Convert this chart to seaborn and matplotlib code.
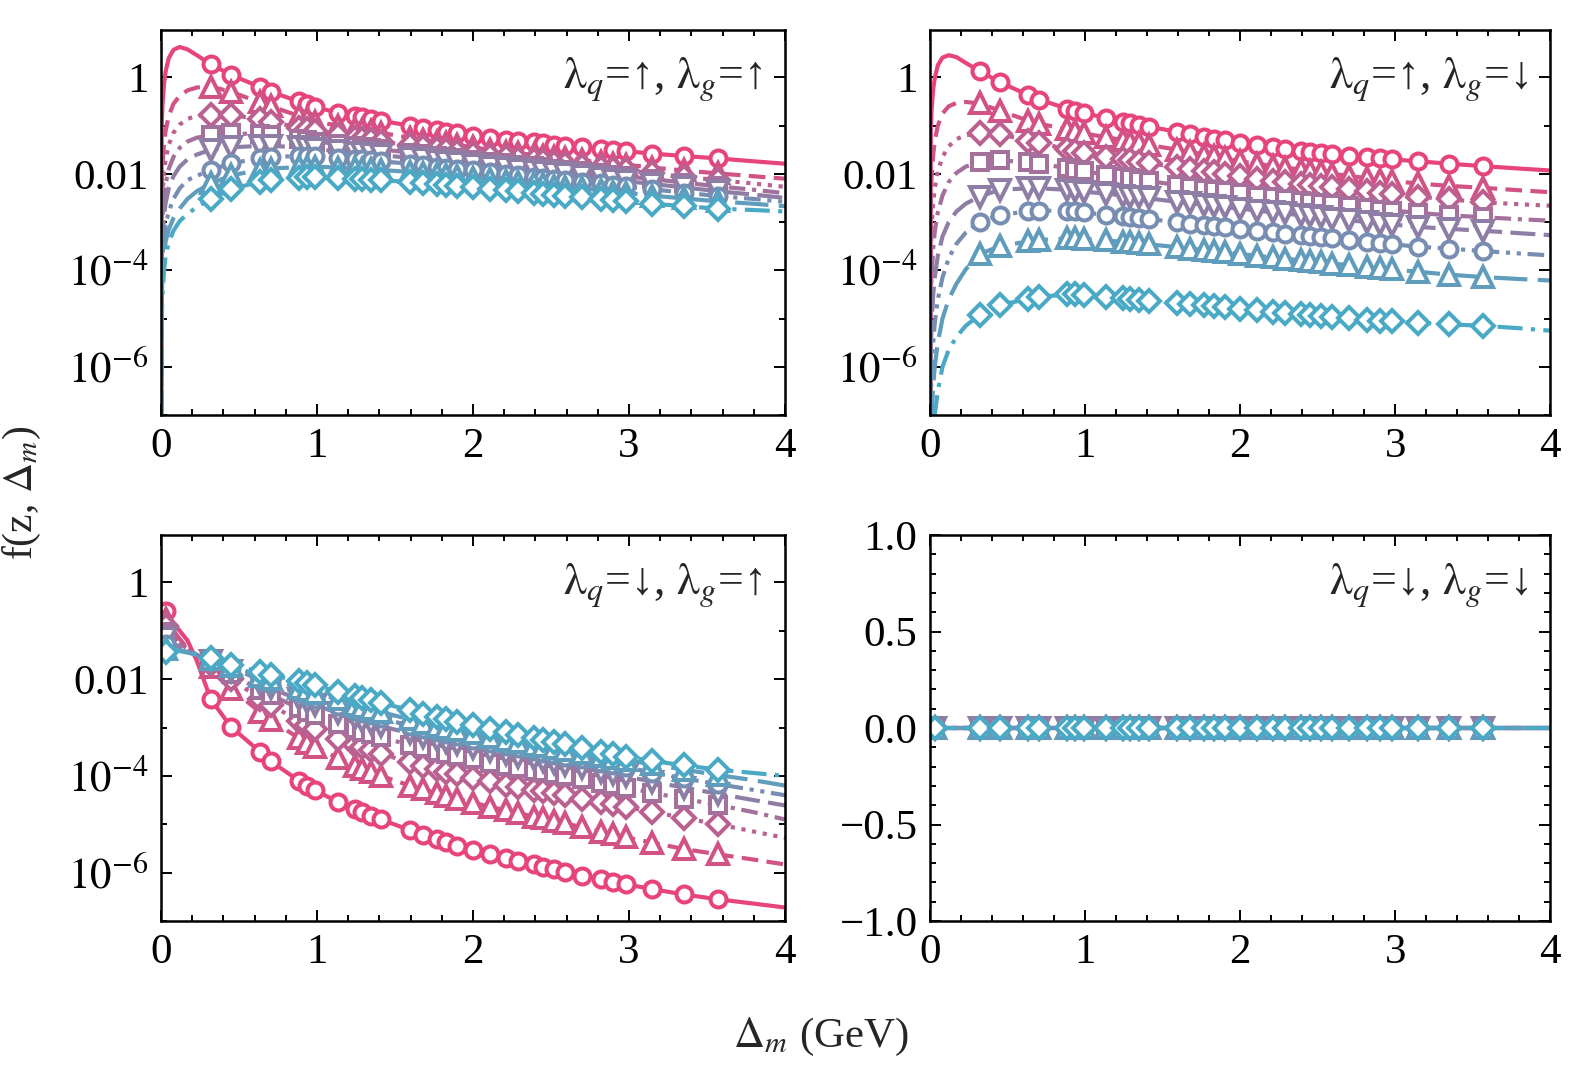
import numpy as np
import pandas as pd
import matplotlib
matplotlib.use('Agg')
import matplotlib.pyplot as plt
import seaborn as sns
from matplotlib.ticker import FixedLocator, FixedFormatter, NullFormatter, MultipleLocator

# Δm grid (GeV): the first points only shape the steep rise near 0
dm = [0.0, 0.005, 0.01, 0.02, 0.03, 0.05, 0.08, 0.12, 0.17, 0.23,
      0.32, 0.45, 0.635, 0.705, 0.885, 0.935, 0.99, 1.135, 1.245, 1.29, 1.345, 1.41,
      1.595, 1.68, 1.77, 1.83, 1.90, 2.0, 2.11, 2.21, 2.29, 2.39, 2.45, 2.52,
      2.59, 2.70, 2.82, 2.90, 2.98, 3.15, 3.35, 3.57, 3.8, 4.0]

# which grid points carry a marker
marks_top = list(range(10, 42))
marks_bottom = [4] + list(range(10, 42))

# log10 f(z, Δm), 8 curves per panel (pink -> teal); -9 = f vanishes at Δm = 0
logf_uu = [
    [-9, -1.0, -0.55, -0.12, 0.12, 0.4, 0.57, 0.63, 0.58, 0.46,
     0.27, 0.05, -0.2, -0.3, -0.5, -0.56, -0.62, -0.73, -0.8, -0.83, -0.86, -0.9,
     -1.0, -1.05, -1.1, -1.13, -1.16, -1.21, -1.25, -1.29, -1.32, -1.35, -1.37, -1.4,
     -1.42, -1.45, -1.49, -1.51, -1.53, -1.58, -1.63, -1.68, -1.74, -1.79],
    [-9, -2.3, -1.8, -1.35, -1.1, -0.8, -0.55, -0.38, -0.27, -0.21,
     -0.19, -0.3, -0.52, -0.6, -0.8, -0.86, -0.92, -1.0, -1.06, -1.09, -1.12, -1.15,
     -1.25, -1.29, -1.34, -1.37, -1.4, -1.45, -1.5, -1.54, -1.57, -1.61, -1.63, -1.65,
     -1.68, -1.72, -1.76, -1.79, -1.81, -1.87, -1.93, -1.99, -2.05, -2.1],
    [-9, -2.9, -2.4, -1.95, -1.7, -1.4, -1.15, -0.98, -0.86, -0.8,
     -0.77, -0.78, -0.87, -0.92, -1.04, -1.08, -1.12, -1.2, -1.25, -1.28, -1.3, -1.33,
     -1.41, -1.45, -1.49, -1.51, -1.54, -1.58, -1.62, -1.66, -1.69, -1.72, -1.74, -1.77,
     -1.79, -1.83, -1.87, -1.9, -1.93, -1.99, -2.06, -2.13, -2.2, -2.27],
    [-9, -3.4, -2.9, -2.45, -2.2, -1.9, -1.65, -1.46, -1.33, -1.25,
     -1.2, -1.16, -1.18, -1.2, -1.27, -1.3, -1.33, -1.38, -1.42, -1.44, -1.46, -1.49,
     -1.56, -1.59, -1.62, -1.65, -1.67, -1.71, -1.75, -1.78, -1.81, -1.84, -1.86, -1.89,
     -1.91, -1.95, -1.99, -2.02, -2.05, -2.11, -2.18, -2.26, -2.33, -2.4],
    [-9, -3.8, -3.3, -2.85, -2.6, -2.3, -2.05, -1.85, -1.7, -1.6,
     -1.5, -1.45, -1.42, -1.42, -1.45, -1.47, -1.49, -1.53, -1.56, -1.57, -1.59, -1.61,
     -1.67, -1.7, -1.73, -1.75, -1.78, -1.81, -1.85, -1.88, -1.91, -1.94, -1.96, -1.99,
     -2.01, -2.05, -2.09, -2.12, -2.15, -2.21, -2.28, -2.36, -2.43, -2.5],
    [-9, -4.2, -3.7, -3.3, -3.05, -2.78, -2.52, -2.3, -2.13, -2.04,
     -1.92, -1.78, -1.68, -1.65, -1.63, -1.63, -1.64, -1.67, -1.69, -1.7, -1.72, -1.74,
     -1.79, -1.82, -1.85, -1.87, -1.89, -1.93, -1.96, -2.0, -2.02, -2.06, -2.08, -2.1,
     -2.13, -2.16, -2.2, -2.23, -2.26, -2.32, -2.39, -2.46, -2.52, -2.58],
    [-9, -4.6, -4.1, -3.65, -3.4, -3.15, -2.92, -2.72, -2.52, -2.36,
     -2.2, -2.03, -1.92, -1.89, -1.86, -1.85, -1.85, -1.87, -1.88, -1.89, -1.9, -1.92,
     -1.96, -1.99, -2.01, -2.03, -2.05, -2.08, -2.11, -2.15, -2.17, -2.2, -2.22, -2.25,
     -2.27, -2.3, -2.34, -2.37, -2.39, -2.45, -2.51, -2.57, -2.62, -2.67],
    [-9, -5.0, -4.5, -4.0, -3.7, -3.42, -3.18, -2.98, -2.83, -2.69,
     -2.52, -2.32, -2.16, -2.12, -2.08, -2.07, -2.07, -2.08, -2.1, -2.11, -2.12, -2.13,
     -2.17, -2.19, -2.21, -2.23, -2.25, -2.28, -2.31, -2.34, -2.36, -2.39, -2.41, -2.43,
     -2.45, -2.48, -2.52, -2.54, -2.57, -2.62, -2.67, -2.72, -2.75, -2.78],
]

logf_ud = [
    [-9, -1.1, -0.65, -0.25, -0.02, 0.25, 0.41, 0.46, 0.42, 0.3,
     0.13, -0.1, -0.37, -0.46, -0.65, -0.7, -0.74, -0.84, -0.92, -0.95, -0.98, -1.02,
     -1.13, -1.18, -1.23, -1.27, -1.3, -1.36, -1.41, -1.45, -1.48, -1.52, -1.54, -1.57,
     -1.59, -1.62, -1.66, -1.68, -1.7, -1.74, -1.79, -1.84, -1.89, -1.93],
    [-9, -2.5, -2.05, -1.6, -1.33, -1.0, -0.75, -0.6, -0.53, -0.51,
     -0.54, -0.69, -0.9, -0.96, -1.08, -1.12, -1.16, -1.24, -1.3, -1.33, -1.36, -1.4,
     -1.5, -1.55, -1.6, -1.63, -1.67, -1.74, -1.79, -1.84, -1.87, -1.91, -1.94, -1.97,
     -2.0, -2.04, -2.09, -2.12, -2.15, -2.2, -2.25, -2.29, -2.34, -2.38],
    [-9, -3.6, -3.1, -2.6, -2.3, -1.95, -1.65, -1.43, -1.28, -1.2,
     -1.16, -1.18, -1.31, -1.36, -1.49, -1.53, -1.57, -1.65, -1.7, -1.72, -1.75, -1.78,
     -1.86, -1.9, -1.94, -1.97, -2.0, -2.05, -2.1, -2.14, -2.17, -2.21, -2.23, -2.26,
     -2.28, -2.32, -2.36, -2.39, -2.42, -2.47, -2.53, -2.59, -2.63, -2.66],
    [-9, -4.6, -4.1, -3.55, -3.2, -2.8, -2.45, -2.17, -1.98, -1.85,
     -1.75, -1.72, -1.76, -1.79, -1.88, -1.91, -1.94, -2.02, -2.07, -2.09, -2.12, -2.15,
     -2.23, -2.27, -2.31, -2.33, -2.36, -2.4, -2.45, -2.49, -2.52, -2.56, -2.58, -2.61,
     -2.63, -2.67, -2.71, -2.74, -2.76, -2.81, -2.86, -2.9, -2.94, -2.97],
    [-9, -5.6, -5.1, -4.5, -4.15, -3.7, -3.3, -3.0, -2.78, -2.62,
     -2.47, -2.33, -2.3, -2.3, -2.33, -2.35, -2.37, -2.41, -2.45, -2.47, -2.49, -2.51,
     -2.58, -2.61, -2.64, -2.66, -2.69, -2.72, -2.76, -2.8, -2.82, -2.86, -2.88, -2.9,
     -2.93, -2.96, -3.0, -3.03, -3.05, -3.1, -3.14, -3.18, -3.23, -3.27],
    [-9, -6.6, -6.1, -5.5, -5.1, -4.6, -4.15, -3.75, -3.45, -3.22,
     -2.99, -2.86, -2.77, -2.76, -2.77, -2.78, -2.8, -2.85, -2.88, -2.9, -2.92, -2.94,
     -3.0, -3.03, -3.06, -3.08, -3.11, -3.14, -3.18, -3.21, -3.24, -3.27, -3.29, -3.31,
     -3.34, -3.37, -3.41, -3.44, -3.46, -3.51, -3.55, -3.6, -3.65, -3.69],
    [-9, -7.5, -7.0, -6.4, -6.0, -5.5, -5.0, -4.6, -4.28, -3.98,
     -3.66, -3.5, -3.4, -3.37, -3.34, -3.34, -3.35, -3.38, -3.41, -3.42, -3.44, -3.46,
     -3.52, -3.55, -3.58, -3.6, -3.62, -3.66, -3.7, -3.73, -3.76, -3.79, -3.81, -3.83,
     -3.86, -3.89, -3.93, -3.96, -3.98, -4.03, -4.09, -4.14, -4.18, -4.21],
    [-9, -8.5, -8.0, -7.4, -7.0, -6.5, -6.0, -5.65, -5.38, -5.15,
     -4.92, -4.72, -4.59, -4.55, -4.5, -4.5, -4.51, -4.55, -4.58, -4.59, -4.61, -4.63,
     -4.68, -4.7, -4.72, -4.74, -4.76, -4.8, -4.83, -4.86, -4.88, -4.9, -4.92, -4.94,
     -4.96, -4.99, -5.02, -5.04, -5.06, -5.09, -5.12, -5.15, -5.2, -5.25],
]

logf_du = [
    [-0.42, -0.44, -0.47, -0.53, -0.6, -0.7, -0.84, -1.0, -1.2, -1.62,
     -2.42, -2.99, -3.5, -3.7, -4.1, -4.2, -4.3, -4.54, -4.69, -4.75, -4.82, -4.9,
     -5.12, -5.22, -5.31, -5.37, -5.44, -5.53, -5.62, -5.7, -5.76, -5.83, -5.88, -5.93,
     -5.98, -6.06, -6.14, -6.19, -6.24, -6.34, -6.45, -6.55, -6.64, -6.72],
    [-0.6, -0.62, -0.65, -0.7, -0.76, -0.86, -1.0, -1.17, -1.36, -1.52,
     -1.74, -2.2, -2.68, -2.85, -3.22, -3.31, -3.4, -3.63, -3.79, -3.85, -3.92, -4.0,
     -4.2, -4.28, -4.36, -4.41, -4.47, -4.55, -4.64, -4.71, -4.77, -4.84, -4.88, -4.93,
     -4.98, -5.06, -5.15, -5.21, -5.27, -5.38, -5.51, -5.62, -5.73, -5.83],
    [-0.8, -0.81, -0.83, -0.87, -0.91, -0.99, -1.1, -1.24, -1.38, -1.5,
     -1.68, -2.0, -2.4, -2.54, -2.86, -2.94, -3.03, -3.23, -3.36, -3.41, -3.47, -3.54,
     -3.72, -3.79, -3.86, -3.91, -3.96, -4.04, -4.11, -4.18, -4.23, -4.29, -4.32, -4.36,
     -4.4, -4.47, -4.54, -4.59, -4.64, -4.74, -4.87, -5.0, -5.15, -5.28],
    [-0.95, -0.96, -0.97, -1.0, -1.03, -1.09, -1.18, -1.29, -1.4, -1.5,
     -1.64, -1.9, -2.22, -2.33, -2.6, -2.67, -2.74, -2.92, -3.04, -3.09, -3.14, -3.2,
     -3.36, -3.43, -3.5, -3.54, -3.59, -3.66, -3.73, -3.79, -3.84, -3.89, -3.92, -3.96,
     -4.0, -4.07, -4.14, -4.19, -4.24, -4.35, -4.47, -4.6, -4.75, -4.9],
    [-1.1, -1.1, -1.11, -1.13, -1.15, -1.2, -1.26, -1.34, -1.42, -1.5,
     -1.62, -1.83, -2.1, -2.19, -2.42, -2.48, -2.54, -2.7, -2.81, -2.86, -2.91, -2.97,
     -3.12, -3.19, -3.26, -3.3, -3.35, -3.42, -3.49, -3.55, -3.6, -3.66, -3.69, -3.73,
     -3.77, -3.84, -3.91, -3.96, -4.01, -4.12, -4.24, -4.37, -4.5, -4.61],
    [-1.25, -1.25, -1.25, -1.26, -1.27, -1.3, -1.34, -1.39, -1.44, -1.5,
     -1.6, -1.77, -2.01, -2.09, -2.29, -2.34, -2.4, -2.55, -2.66, -2.7, -2.75, -2.81,
     -2.96, -3.03, -3.09, -3.13, -3.18, -3.25, -3.32, -3.38, -3.43, -3.49, -3.52, -3.56,
     -3.6, -3.66, -3.73, -3.78, -3.82, -3.93, -4.05, -4.17, -4.29, -4.4],
    [-1.38, -1.38, -1.38, -1.38, -1.38, -1.39, -1.4, -1.42, -1.45, -1.5,
     -1.59, -1.73, -1.93, -2.0, -2.18, -2.23, -2.28, -2.42, -2.53, -2.57, -2.62, -2.68,
     -2.83, -2.9, -2.96, -3.0, -3.05, -3.12, -3.19, -3.25, -3.3, -3.36, -3.39, -3.43,
     -3.47, -3.53, -3.59, -3.63, -3.67, -3.76, -3.87, -3.98, -4.09, -4.2],
    [-1.5, -1.48, -1.46, -1.44, -1.43, -1.41, -1.4, -1.41, -1.44, -1.49,
     -1.57, -1.7, -1.85, -1.91, -2.04, -2.08, -2.13, -2.26, -2.35, -2.39, -2.43, -2.49,
     -2.64, -2.71, -2.78, -2.83, -2.88, -2.95, -3.03, -3.1, -3.16, -3.22, -3.26, -3.3,
     -3.35, -3.42, -3.5, -3.55, -3.6, -3.69, -3.78, -3.87, -3.94, -4.0],
]

# λq=↓, λg=↓ : identically zero for every curve
f_dd = [0.0] * len(dm)

panel_titles = ['$\\mathrm{\\lambda}_q$=↑, $\\mathrm{\\lambda}_g$=↑',
                '$\\mathrm{\\lambda}_q$=↑, $\\mathrm{\\lambda}_g$=↓',
                '$\\mathrm{\\lambda}_q$=↓, $\\mathrm{\\lambda}_g$=↑',
                '$\\mathrm{\\lambda}_q$=↓, $\\mathrm{\\lambda}_g$=↓']

log_ticks = [1, 1e-2, 1e-4, 1e-6]
log_ticklabels = ['1', '0.01', '$10^{-4}$', '$10^{-6}$']
log_minor = [10, 1e-1, 1e-3, 1e-5, 1e-7]
lin_ticks = [-1.0, -0.5, 0.0, 0.5, 1.0]
lin_ticklabels = ['−1.0', '−0.5', '0.0', '0.5', '1.0']

# ---- style
sns.set_theme(style='ticks')
plt.rcParams['font.family'] = ['Liberation Serif', 'DejaVu Serif']
plt.rcParams['mathtext.fontset'] = 'stix'
plt.rcParams['axes.linewidth'] = 1.8
plt.rcParams['axes.edgecolor'] = 'black'

colors = sns.blend_palette(['#e8447c', '#4aaac6'], 8)
markers = ['o', '^', 'D', 's', 'v', 'o', '^', 'D']
msizes = [11.5, 14.0, 11.6, 11.0, 14.0, 11.5, 14.0, 11.6]
dashes = ['-', (0, (4, 2)), (0, (1, 1.6)), (0, (4, 1.6, 1, 1.6)), (0, (6, 2)),
          (0, (4, 1.6, 1, 1.6, 1, 1.6)), (0, (8, 2.5)), (0, (6, 2, 1, 2))]

fig = plt.figure(figsize=(15.78, 10.67), dpi=100)
boxes = [[0.102, 0.611, 0.3954, 0.3608], [0.5894, 0.611, 0.3929, 0.3608],
         [0.102, 0.1368, 0.3954, 0.3618], [0.5894, 0.1368, 0.3929, 0.3618]]
axes = [fig.add_axes(b) for b in boxes]


def draw_curves(ax, series, marks, log=True):
    for i, vals in enumerate(series):
        y = 10 ** np.array(vals, dtype=float) if log else np.array(vals, dtype=float)
        df = pd.DataFrame({'dm': dm, 'f': y})
        sns.lineplot(data=df, x='dm', y='f', ax=ax, estimator=None, sort=False,
                     color=colors[i], legend=False)
        line = ax.lines[-1]
        line.set_linestyle(dashes[i])
        line.set_linewidth(3.0)
        line.set_marker(markers[i])
        line.set_markersize(msizes[i])
        line.set_markevery(marks)
        line.set_markerfacecolor('white')
        line.set_markeredgecolor(colors[i])
        line.set_markeredgewidth(2.9)


def style_axes(ax, log=True):
    ax.set_xlim(0, 4)
    ax.xaxis.set_major_locator(MultipleLocator(1))
    ax.xaxis.set_minor_locator(MultipleLocator(0.2))
    if log:
        ax.set_yscale('log')
        ax.set_ylim(1e-7, 10 ** 0.98)
        ax.yaxis.set_major_locator(FixedLocator(log_ticks))
        ax.yaxis.set_major_formatter(FixedFormatter(log_ticklabels))
        ax.yaxis.set_minor_locator(FixedLocator(log_minor))
        ax.yaxis.set_minor_formatter(NullFormatter())
    else:
        ax.set_ylim(-1, 1)
        ax.yaxis.set_major_locator(FixedLocator(lin_ticks))
        ax.yaxis.set_major_formatter(FixedFormatter(lin_ticklabels))
        ax.yaxis.set_minor_locator(MultipleLocator(0.1))
    ax.tick_params(which='both', direction='in', top=True, right=True,
                   width=1.4, labelsize=31, pad=9, colors='black')
    ax.tick_params(which='major', length=8)
    ax.tick_params(which='minor', length=4.5)
    ax.set_xlabel('')
    ax.set_ylabel('')
    for sp in ax.spines.values():
        sp.set_visible(True)


draw_curves(axes[0], logf_uu, marks_top)
draw_curves(axes[1], logf_ud, marks_top)
draw_curves(axes[2], logf_du, marks_bottom)
draw_curves(axes[3], [f_dd] * 8, marks_bottom, log=False)

for k, ax in enumerate(axes):
    style_axes(ax, log=(k < 3))
    ax.text(0.965, 0.87, panel_titles[k], transform=ax.transAxes,
            ha='right', va='center', fontsize=33)

fig.text(0.014, 0.538, 'f(z, $\\Delta_m$)', rotation=90, ha='center', va='center', fontsize=30)
fig.text(0.52, 0.028, '$\\Delta_m$ (GeV)', ha='center', va='center', fontsize=31)

fig.savefig('out.png', dpi=100)
